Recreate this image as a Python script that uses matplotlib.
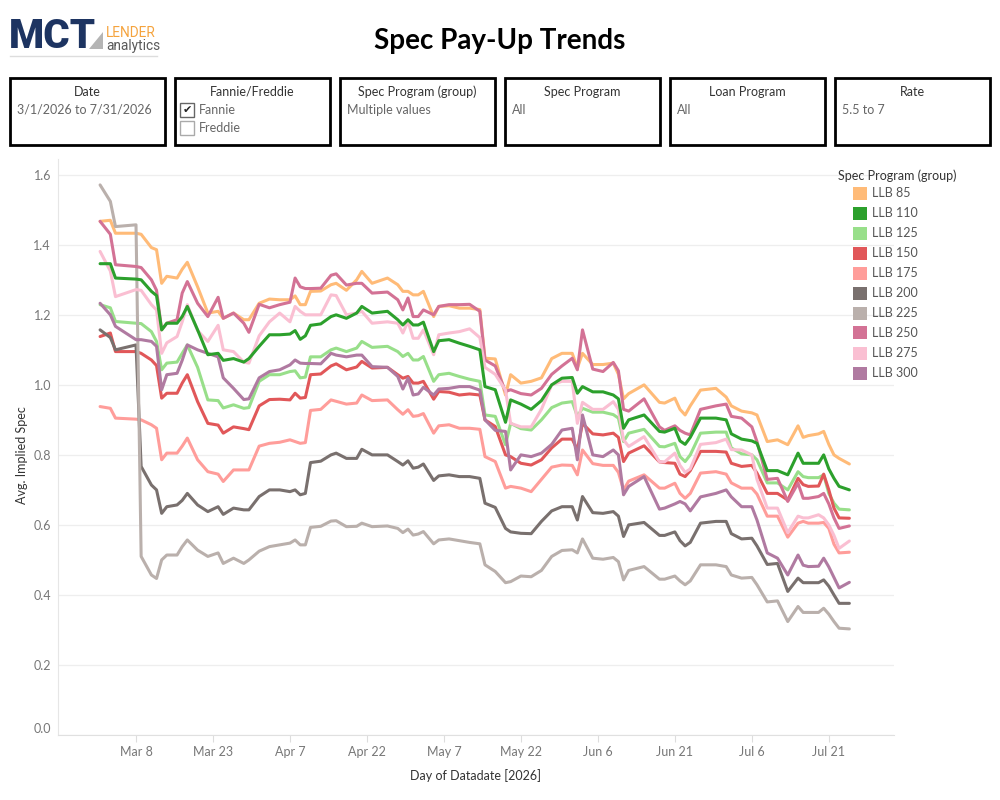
import matplotlib
matplotlib.use("Agg")
import matplotlib.pyplot as plt
from matplotlib.patches import Rectangle, Polygon
from matplotlib.lines import Line2D
import pandas as pd

plt.rcParams['font.family'] = ['Lato', 'DejaVu Sans']

# ----------------------------------------------------------------------------
# DATA
# ----------------------------------------------------------------------------
START = pd.Timestamp("2026-03-01")

# days after Mar 1, 2026
day_offsets = [
    0, 2, 3, 7, 8, 10, 11, 12, 13, 15, 16, 17, 19, 21, 23, 24, 26, 28, 29, 31, 33, 35,
    37, 38, 39, 40, 41, 43, 45, 46, 48, 50, 51, 53, 56, 58, 59, 60, 61, 62, 63, 65, 66, 68, 70,
    72, 74, 75, 77, 79, 80, 82, 84, 86, 88, 90, 92, 93, 94, 96, 98, 100, 101, 102, 103, 106,
    109, 110, 112, 113, 114, 115, 117, 120, 122, 123, 125, 127, 128, 130, 132, 134, 136, 137,
    138, 140, 141, 142, 143, 144, 146,
]

llb_85 = [
    1.467, 1.47, 1.433, 1.433, 1.43, 1.392, 1.386, 1.29, 1.31, 1.305, 1.33, 1.35, 1.28, 1.205, 1.21, 1.19, 1.205, 1.186, 1.186, 1.233, 1.245, 1.243,
    1.243, 1.254, 1.229, 1.229, 1.267, 1.268, 1.286, 1.29, 1.27, 1.30, 1.324, 1.29, 1.305, 1.286, 1.267, 1.267, 1.257, 1.257, 1.267, 1.195, 1.224, 1.226, 1.219,
    1.219, 1.215, 1.076, 1.074, 0.971, 1.029, 1.005, 1.01, 1.02, 1.075, 1.09, 1.09, 1.048, 1.09, 1.058, 1.058, 1.062, 1.03, 0.96, 0.975, 1.0,
    0.95, 0.948, 0.962, 0.93, 0.914, 0.94, 0.985, 0.99, 0.965, 0.94, 0.925, 0.92, 0.914, 0.838, 0.843, 0.829, 0.883, 0.85, 0.855, 0.86, 0.867, 0.83, 0.80, 0.79, 0.774,
]
llb_110 = [
    1.346, 1.346, 1.305, 1.302, 1.30, 1.267, 1.255, 1.157, 1.176, 1.176, 1.195, 1.224, 1.157, 1.086, 1.09, 1.07, 1.075, 1.065, 1.075, 1.11, 1.143, 1.143,
    1.145, 1.155, 1.13, 1.14, 1.17, 1.174, 1.195, 1.20, 1.19, 1.205, 1.224, 1.205, 1.21, 1.186, 1.171, 1.186, 1.171, 1.171, 1.179, 1.095, 1.126, 1.129, 1.119,
    1.11, 1.10, 0.995, 0.986, 0.893, 0.957, 0.945, 0.93, 0.955, 1.0, 1.019, 1.021, 0.976, 0.995, 0.98, 0.98, 0.971, 0.96, 0.876, 0.90, 0.914,
    0.867, 0.865, 0.876, 0.84, 0.83, 0.85, 0.905, 0.905, 0.90, 0.86, 0.845, 0.84, 0.833, 0.755, 0.755, 0.743, 0.805, 0.776, 0.776, 0.776, 0.80, 0.76, 0.733, 0.71, 0.70,
]
llb_125 = [
    1.229, 1.22, 1.181, 1.176, 1.175, 1.152, 1.124, 1.043, 1.062, 1.065, 1.09, 1.114, 1.05, 0.957, 0.955, 0.934, 0.943, 0.933, 0.935, 1.01, 1.029, 1.029,
    1.038, 1.04, 1.02, 1.022, 1.08, 1.08, 1.10, 1.105, 1.095, 1.105, 1.124, 1.107, 1.11, 1.095, 1.081, 1.09, 1.071, 1.071, 1.081, 1.01, 1.029, 1.033, 1.024,
    1.016, 1.01, 0.914, 0.91, 0.829, 0.89, 0.875, 0.871, 0.90, 0.935, 0.948, 0.952, 0.91, 0.933, 0.922, 0.922, 0.915, 0.905, 0.838, 0.862, 0.873,
    0.824, 0.823, 0.833, 0.795, 0.781, 0.80, 0.862, 0.865, 0.865, 0.82, 0.803, 0.80, 0.786, 0.72, 0.72, 0.70, 0.752, 0.738, 0.735, 0.735, 0.743, 0.69, 0.662, 0.645, 0.643,
]
llb_150 = [
    1.138, 1.148, 1.095, 1.095, 1.09, 1.071, 1.055, 0.962, 0.976, 0.976, 1.005, 1.029, 0.952, 0.89, 0.885, 0.862, 0.88, 0.875, 0.872, 0.94, 0.958, 0.959,
    0.957, 0.976, 0.962, 0.964, 1.029, 1.031, 1.054, 1.06, 1.043, 1.051, 1.067, 1.048, 1.05, 1.029, 1.019, 1.024, 1.005, 1.005, 1.01, 0.959, 0.981, 0.979, 0.971,
    0.974, 0.971, 0.90, 0.881, 0.80, 0.795, 0.776, 0.771, 0.786, 0.82, 0.845, 0.845, 0.814, 0.89, 0.86, 0.857, 0.862, 0.85, 0.781, 0.805, 0.826,
    0.78, 0.778, 0.776, 0.745, 0.738, 0.755, 0.81, 0.81, 0.808, 0.776, 0.767, 0.77, 0.748, 0.69, 0.69, 0.671, 0.733, 0.715, 0.71, 0.711, 0.745, 0.70, 0.648, 0.62, 0.619,
]
llb_175 = [
    0.938, 0.933, 0.905, 0.902, 0.90, 0.886, 0.876, 0.786, 0.805, 0.805, 0.825, 0.848, 0.786, 0.752, 0.745, 0.724, 0.757, 0.757, 0.757, 0.825, 0.833, 0.836,
    0.843, 0.838, 0.833, 0.835, 0.927, 0.93, 0.957, 0.953, 0.945, 0.948, 0.971, 0.955, 0.957, 0.929, 0.916, 0.929, 0.910, 0.912, 0.918, 0.862, 0.883, 0.886, 0.876,
    0.876, 0.873, 0.795, 0.781, 0.705, 0.71, 0.705, 0.695, 0.73, 0.765, 0.771, 0.77, 0.743, 0.814, 0.775, 0.77, 0.77, 0.75, 0.70, 0.725, 0.743,
    0.705, 0.705, 0.719, 0.69, 0.676, 0.69, 0.748, 0.752, 0.745, 0.72, 0.705, 0.705, 0.688, 0.625, 0.625, 0.565, 0.605, 0.61, 0.605, 0.605, 0.607, 0.59, 0.545, 0.52, 0.522,
]
llb_200 = [
    1.157, 1.135, 1.10, 1.114, 0.767, 0.714, 0.70, 0.633, 0.652, 0.657, 0.67, 0.69, 0.657, 0.638, 0.652, 0.63, 0.648, 0.643, 0.643, 0.681, 0.70, 0.70,
    0.695, 0.70, 0.686, 0.69, 0.778, 0.782, 0.80, 0.805, 0.79, 0.79, 0.816, 0.80, 0.80, 0.781, 0.771, 0.783, 0.762, 0.765, 0.774, 0.727, 0.740, 0.743, 0.738,
    0.738, 0.733, 0.662, 0.65, 0.59, 0.58, 0.576, 0.575, 0.61, 0.64, 0.652, 0.652, 0.614, 0.681, 0.635, 0.633, 0.638, 0.625, 0.567, 0.60, 0.607,
    0.57, 0.57, 0.58, 0.555, 0.54, 0.55, 0.605, 0.61, 0.61, 0.575, 0.56, 0.562, 0.54, 0.487, 0.49, 0.41, 0.448, 0.435, 0.435, 0.435, 0.443, 0.425, 0.40, 0.376, 0.376,
]
llb_225 = [
    1.571, 1.524, 1.452, 1.457, 0.51, 0.457, 0.447, 0.50, 0.514, 0.514, 0.538, 0.557, 0.528, 0.51, 0.52, 0.49, 0.505, 0.49, 0.50, 0.525, 0.538, 0.543,
    0.548, 0.557, 0.543, 0.543, 0.593, 0.596, 0.611, 0.612, 0.595, 0.596, 0.605, 0.595, 0.597, 0.590, 0.578, 0.588, 0.571, 0.574, 0.581, 0.546, 0.557, 0.560, 0.555,
    0.55, 0.546, 0.486, 0.467, 0.435, 0.438, 0.454, 0.452, 0.47, 0.51, 0.527, 0.529, 0.52, 0.56, 0.505, 0.502, 0.507, 0.495, 0.443, 0.47, 0.481,
    0.445, 0.445, 0.454, 0.44, 0.429, 0.44, 0.486, 0.486, 0.481, 0.457, 0.448, 0.45, 0.429, 0.38, 0.383, 0.324, 0.367, 0.35, 0.35, 0.35, 0.362, 0.345, 0.324, 0.305, 0.303,
]
llb_250 = [
    1.467, 1.43, 1.343, 1.338, 1.335, 1.30, 1.27, 1.157, 1.176, 1.186, 1.262, 1.295, 1.233, 1.195, 1.25, 1.19, 1.205, 1.176, 1.15, 1.23, 1.22, 1.229,
    1.236, 1.305, 1.28, 1.275, 1.275, 1.276, 1.313, 1.317, 1.285, 1.29, 1.29, 1.262, 1.265, 1.243, 1.214, 1.248, 1.195, 1.195, 1.214, 1.20, 1.224, 1.229, 1.229,
    1.23, 1.21, 1.071, 1.054, 0.981, 0.986, 0.975, 0.971, 0.99, 1.03, 1.054, 1.076, 1.043, 1.157, 1.045, 1.038, 1.064, 1.04, 0.93, 0.925, 0.96,
    0.88, 0.87, 0.883, 0.87, 0.862, 0.857, 0.93, 0.94, 0.945, 0.91, 0.905, 0.88, 0.838, 0.73, 0.733, 0.667, 0.719, 0.676, 0.676, 0.681, 0.69, 0.66, 0.62, 0.59, 0.597,
]
llb_275 = [
    1.381, 1.325, 1.252, 1.272, 1.27, 1.229, 1.214, 1.09, 1.12, 1.138, 1.18, 1.229, 1.155, 1.124, 1.17, 1.10, 1.095, 1.065, 1.062, 1.14, 1.18, 1.205,
    1.18, 1.224, 1.21, 1.20, 1.20, 1.20, 1.257, 1.255, 1.20, 1.205, 1.21, 1.176, 1.18, 1.176, 1.148, 1.181, 1.133, 1.133, 1.157, 1.086, 1.143, 1.148, 1.152,
    1.16, 1.135, 1.05, 1.03, 0.985, 0.89, 0.88, 0.88, 0.93, 1.0, 1.01, 1.01, 0.89, 0.95, 0.93, 0.93, 0.952, 0.93, 0.843, 0.824, 0.852,
    0.78, 0.78, 0.805, 0.77, 0.75, 0.76, 0.83, 0.835, 0.845, 0.815, 0.814, 0.80, 0.73, 0.648, 0.648, 0.578, 0.625, 0.62, 0.62, 0.629, 0.62, 0.60, 0.57, 0.533, 0.554,
]
llb_300 = [
    1.233, 1.20, 1.167, 1.129, 1.129, 1.124, 1.11, 0.986, 1.029, 1.033, 1.07, 1.114, 1.10, 1.09, 1.08, 1.02, 0.99, 0.958, 0.96, 1.02, 1.038, 1.043,
    1.057, 1.071, 1.062, 1.061, 1.061, 1.06, 1.09, 1.085, 1.08, 1.085, 1.085, 1.052, 1.05, 1.024, 0.988, 1.019, 0.971, 0.974, 0.993, 0.971, 0.988, 0.99, 0.995,
    0.995, 0.985, 0.90, 0.87, 0.867, 0.757, 0.80, 0.795, 0.805, 0.83, 0.871, 0.876, 0.786, 0.914, 0.80, 0.795, 0.814, 0.80, 0.686, 0.71, 0.738,
    0.645, 0.648, 0.66, 0.667, 0.66, 0.64, 0.68, 0.69, 0.70, 0.68, 0.652, 0.652, 0.614, 0.52, 0.505, 0.457, 0.514, 0.485, 0.481, 0.482, 0.505, 0.48, 0.45, 0.42, 0.436,
]

programs = ["LLB 85", "LLB 110", "LLB 125", "LLB 150", "LLB 175",
            "LLB 200", "LLB 225", "LLB 250", "LLB 275", "LLB 300"]
program_values = [llb_85, llb_110, llb_125, llb_150, llb_175,
                  llb_200, llb_225, llb_250, llb_275, llb_300]
program_colors = ["#ffbb78", "#2ca02c", "#98df8a", "#e15759", "#ff9d9a",
                  "#79706e", "#bab0ac", "#d37295", "#fabfd2", "#b07aa1"]

filters = [
    ("Date", "3/1/2026 to 7/31/2026"),
    ("Fannie/Freddie", None),
    ("Spec Program (group)", "Multiple values"),
    ("Spec Program", "All"),
    ("Loan Program", "All"),
    ("Rate", "5.5 to 7"),
]
agency_options = ["Fannie", "Freddie"]
agency_checked = [True, False]

tick_dates = pd.date_range("2026-03-08", periods=10, freq="15D")
y_ticks = [0.0, 0.2, 0.4, 0.6, 0.8, 1.0, 1.2, 1.4, 1.6]

# ----------------------------------------------------------------------------
# FIGURE
# ----------------------------------------------------------------------------
W, H = 1000, 800
fig = plt.figure(figsize=(10, 8), dpi=100)
LOGO_FONT = ["Roboto", "DejaVu Sans"]


def fx(x):
    return x / W


def fy(y):
    return 1 - y / H


# logo
fig.text(fx(9), fy(48), "MCT", fontsize=29, fontweight="heavy",
         color="#1d3461", ha="left", va="baseline", family=LOGO_FONT)
fig.add_artist(Polygon([(fx(89), fy(48.5)), (fx(103), fy(48.5)), (fx(103), fy(32))],
                       closed=True, facecolor="#b5b5b5", edgecolor="none",
                       transform=fig.transFigure))
fig.text(fx(106), fy(37), "LENDER", fontsize=9.8, color="#f5a33d",
         ha="left", va="baseline", family=LOGO_FONT)
fig.text(fx(106), fy(50), "analytics", fontsize=9.8, color="#595959",
         ha="left", va="baseline", family=LOGO_FONT)
fig.add_artist(Line2D([fx(10), fx(157)], [fy(56), fy(56)], color="#dddddd",
                      lw=1, transform=fig.transFigure))

# title
fig.text(fx(500), fy(41), "Spec Pay-Up Trends", fontsize=20,
         fontweight="bold", color="black", ha="center", va="center")

# filter cards
for i, (label, value) in enumerate(filters):
    x0 = 10 + 165 * i
    fig.add_artist(Rectangle((fx(x0), fy(145)), fx(155), 67 / H,
                             facecolor="white", edgecolor="black", lw=2,
                             transform=fig.transFigure))
    fig.text(fx(x0 + 77.5), fy(92), label, fontsize=9, color="#333333",
             ha="center", va="center")
    if value is not None:
        fig.text(fx(x0 + 7), fy(110), value, fontsize=9, color="#666666",
                 ha="left", va="center")
    else:
        for j, (opt, checked) in enumerate(zip(agency_options, agency_checked)):
            yc = 110 + 18 * j
            fig.add_artist(Rectangle((fx(x0 + 5), fy(yc + 7)), fx(14), 14 / H,
                                     facecolor="white",
                                     edgecolor="#666666" if checked else "#aaaaaa",
                                     lw=1, transform=fig.transFigure))
            if checked:
                fig.text(fx(x0 + 12), fy(yc), "\u2714", fontsize=8,
                         color="#222222", ha="center", va="center",
                         family=["DejaVu Sans"])
            fig.text(fx(x0 + 24), fy(yc), opt, fontsize=9, color="#666666",
                     ha="left", va="center")

# main axes
ax = fig.add_axes([fx(58), fy(735), fx(836), 576 / H])
dates = START + pd.to_timedelta(day_offsets, unit="D")
for name, vals, col in zip(programs, program_values, program_colors):
    ax.plot(dates, vals, color=col, lw=2.2, solid_joinstyle="round",
            solid_capstyle="round", label=name,
            zorder=4 if name == "LLB 110" else 3)

ax.set_xlim(START - pd.Timedelta(days=8.2), START + pd.Timedelta(days=154.7))
ax.set_ylim(0, 1.645)
ax.set_xticks(tick_dates)
ax.set_xticklabels([f"{d:%b} {d.day}" for d in tick_dates])
ax.set_yticks(y_ticks)
ax.set_yticklabels([f"{v:.1f}" for v in y_ticks])
ax.yaxis.get_ticklabels()[0].set_va("bottom")

ax.grid(axis="y", color="#eeeeee", lw=0.9, zorder=0)
ax.grid(axis="x", visible=False)
for side in ["top", "right"]:
    ax.spines[side].set_visible(False)
ax.spines["left"].set_color("#e6e6e6")
ax.spines["bottom"].set_color("#e0e0e0")
ax.tick_params(axis="x", colors="#dddddd", labelcolor="#777777",
               labelsize=9, length=5, pad=3)
ax.tick_params(axis="y", length=0, labelcolor="#777777", labelsize=9, pad=5)

fig.text(fx(22), fy(455), "Avg. Implied Spec", rotation=90, fontsize=9,
         color="#333333", ha="center", va="center")
fig.text(fx(476), fy(776), "Day of Datadate [2026]", fontsize=9,
         color="#333333", ha="center", va="center")

# legend
fig.text(fx(838), fy(176), "Spec Program (group)", fontsize=9,
         color="#333333", ha="left", va="center")
for k, (name, col) in enumerate(zip(programs, program_colors)):
    yc = 193 + 20 * k
    fig.add_artist(Rectangle((fx(853), fy(yc + 6.5)), fx(14), 13 / H,
                             facecolor=col, edgecolor="none",
                             transform=fig.transFigure))
    fig.text(fx(872), fy(yc), name, fontsize=9, color="#555555",
             ha="left", va="center")

fig.savefig("out.png", dpi=100)
